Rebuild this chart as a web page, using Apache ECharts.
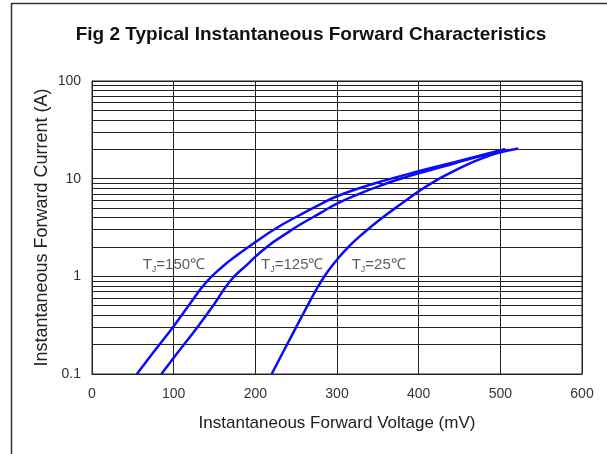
<!DOCTYPE html>
<html>
<head>
    <meta charset="UTF-8">
    <title>Fig 2 Typical Instantaneous Forward Characteristics</title>
    <script src="https://cdn.jsdelivr.net/npm/echarts@6/dist/echarts.min.js"></script>
    <style>
      html, body { margin: 0; padding: 0; background: #fff; }
      #chart { width: 607px; height: 454px; }
    </style>
</head>
<body>
    <div id="chart"></div>
    <script>
        // forward voltage (mV) / forward current (A)
        var v150 = [55, 75, 100, 120, 140, 160, 180, 200, 225, 255, 280, 300, 330, 360, 400, 430, 460, 485, 506];
        var i150 = [0.1, 0.166, 0.309, 0.525, 0.871, 1.26, 1.70, 2.24, 3.09, 4.27, 5.50, 6.61, 8.13, 9.66, 11.9, 13.8, 16.0, 18.1, 20];
        var v125 = [85, 105, 130, 150, 170, 190, 214, 240, 255, 280, 300, 330, 357, 380, 400, 430, 460, 485, 506];
        var i125 = [0.1, 0.166, 0.309, 0.525, 0.912, 1.32, 2.0, 2.82, 3.39, 4.47, 5.56, 7.16, 8.71, 10.1, 11.35, 13.3, 15.7, 17.8, 20];
        var v25 = [220, 235, 250, 262, 275, 288, 300, 315, 332, 357, 380, 400, 420, 440, 460, 480, 500, 522];
        var i25 = [0.1, 0.174, 0.302, 0.468, 0.741, 1.10, 1.48, 2.04, 2.75, 4.07, 5.62, 7.41, 9.44, 11.6, 14.0, 16.4, 18.6, 20.4];

        // curve labels
        var tjText = ['150', '125', '25'];
        var tjV = [62, 207, 318];
        var tjI = [1.31, 1.31, 1.31];

        // log grid lines between the decades
        var minorLines = [0.2, 0.3, 0.4, 0.5, 0.6, 0.7, 0.8, 0.9,
                          2, 3, 4, 5, 6, 7, 8, 9,
                          20, 30, 40, 50, 60, 70, 80, 90];

        function pairs(xs, ys) {
            return xs.map(function (x, k) { return [x, ys[k]]; });
        }

        var curveStyle = { color: '#0a0aff', width: 2.5 };

        var chart = echarts.init(document.getElementById('chart'), null, {renderer: 'canvas'});
        chart.setOption({
            animation: false,
            title: {
                text: 'Fig 2 Typical Instantaneous Forward Characteristics',
                left: 306,
                top: 20,
                textAlign: 'center',
                textStyle: { fontFamily: 'Liberation Sans', fontSize: 19, fontWeight: 'bold', color: '#111' }
            },
            graphic: [
                { type: 'line', shape: { x1: 11, y1: 3.5, x2: 607, y2: 3.5 }, style: { stroke: '#333', lineWidth: 1.5 } },
                { type: 'line', shape: { x1: 11.5, y1: 3, x2: 11.5, y2: 454 }, style: { stroke: '#333', lineWidth: 1.5 } }
            ],
            grid: { left: 92, right: 25, top: 81, bottom: 80, show: true, borderColor: '#222', borderWidth: 1 },
            xAxis: {
                type: 'value',
                min: 0, max: 600, interval: 100,
                name: 'Instantaneous Forward Voltage (mV)',
                nameLocation: 'middle',
                nameGap: 41,
                nameTextStyle: { fontFamily: 'Liberation Sans', fontSize: 17, color: '#222' },
                axisLine: { show: true, lineStyle: { color: '#222', width: 1 } },
                axisTick: { show: false },
                axisLabel: { margin: 13, fontFamily: 'Liberation Sans', fontSize: 14, color: '#333' },
                splitLine: { show: true, lineStyle: { color: '#222', width: 1 } }
            },
            yAxis: {
                type: 'log',
                logBase: 10,
                min: 0.1, max: 100,
                name: 'Instantaneous Forward Current (A)',
                nameLocation: 'middle',
                nameMoveOverlap: false,
                nameGap: 41,
                nameTextStyle: { fontFamily: 'Liberation Sans', fontSize: 18, color: '#222' },
                axisLine: { show: true, lineStyle: { color: '#222', width: 1 } },
                axisTick: { show: false },
                axisLabel: {
                    margin: 11, fontFamily: 'Liberation Sans', fontSize: 14, color: '#333',
                    formatter: function (v) { return String(+v.toPrecision(3)); }
                },
                splitLine: { show: true, lineStyle: { color: '#222', width: 1 } }
            },
            series: [
                {
                    type: 'line', name: 'TJ=150', data: pairs(v150, i150),
                    smooth: 0.5, showSymbol: false, lineStyle: curveStyle, z: 5,
                    markLine: {
                        silent: true, symbol: 'none', animation: false,
                        label: { show: false },
                        lineStyle: { color: '#222', width: 1, type: 'solid' },
                        data: minorLines.map(function (m) { return { yAxis: m }; })
                    }
                },
                { type: 'line', name: 'TJ=125', data: pairs(v125, i125), smooth: 0.5, showSymbol: false, lineStyle: curveStyle, z: 5 },
                { type: 'line', name: 'TJ=25', data: pairs(v25, i25), smooth: 0.5, showSymbol: false, lineStyle: curveStyle, z: 5 },
                {
                    type: 'scatter', symbolSize: 0, silent: true, z: 6,
                    data: tjText.map(function (t, k) { return { value: [tjV[k], tjI[k]], t: t }; }),
                    label: {
                        show: true, position: 'right', distance: 0,
                        formatter: function (p) { return '{t|T}{s|J}{t|=' + p.data.t + '℃}'; },
                        rich: {
                            t: { fontFamily: 'Liberation Sans', fontSize: 15, color: '#333' },
                            s: { fontFamily: 'Liberation Sans', fontSize: 9, color: '#333', padding: [9, 0, 0, 0] }
                        }
                    }
                }
            ]
        });
    </script>
</body>
</html>
